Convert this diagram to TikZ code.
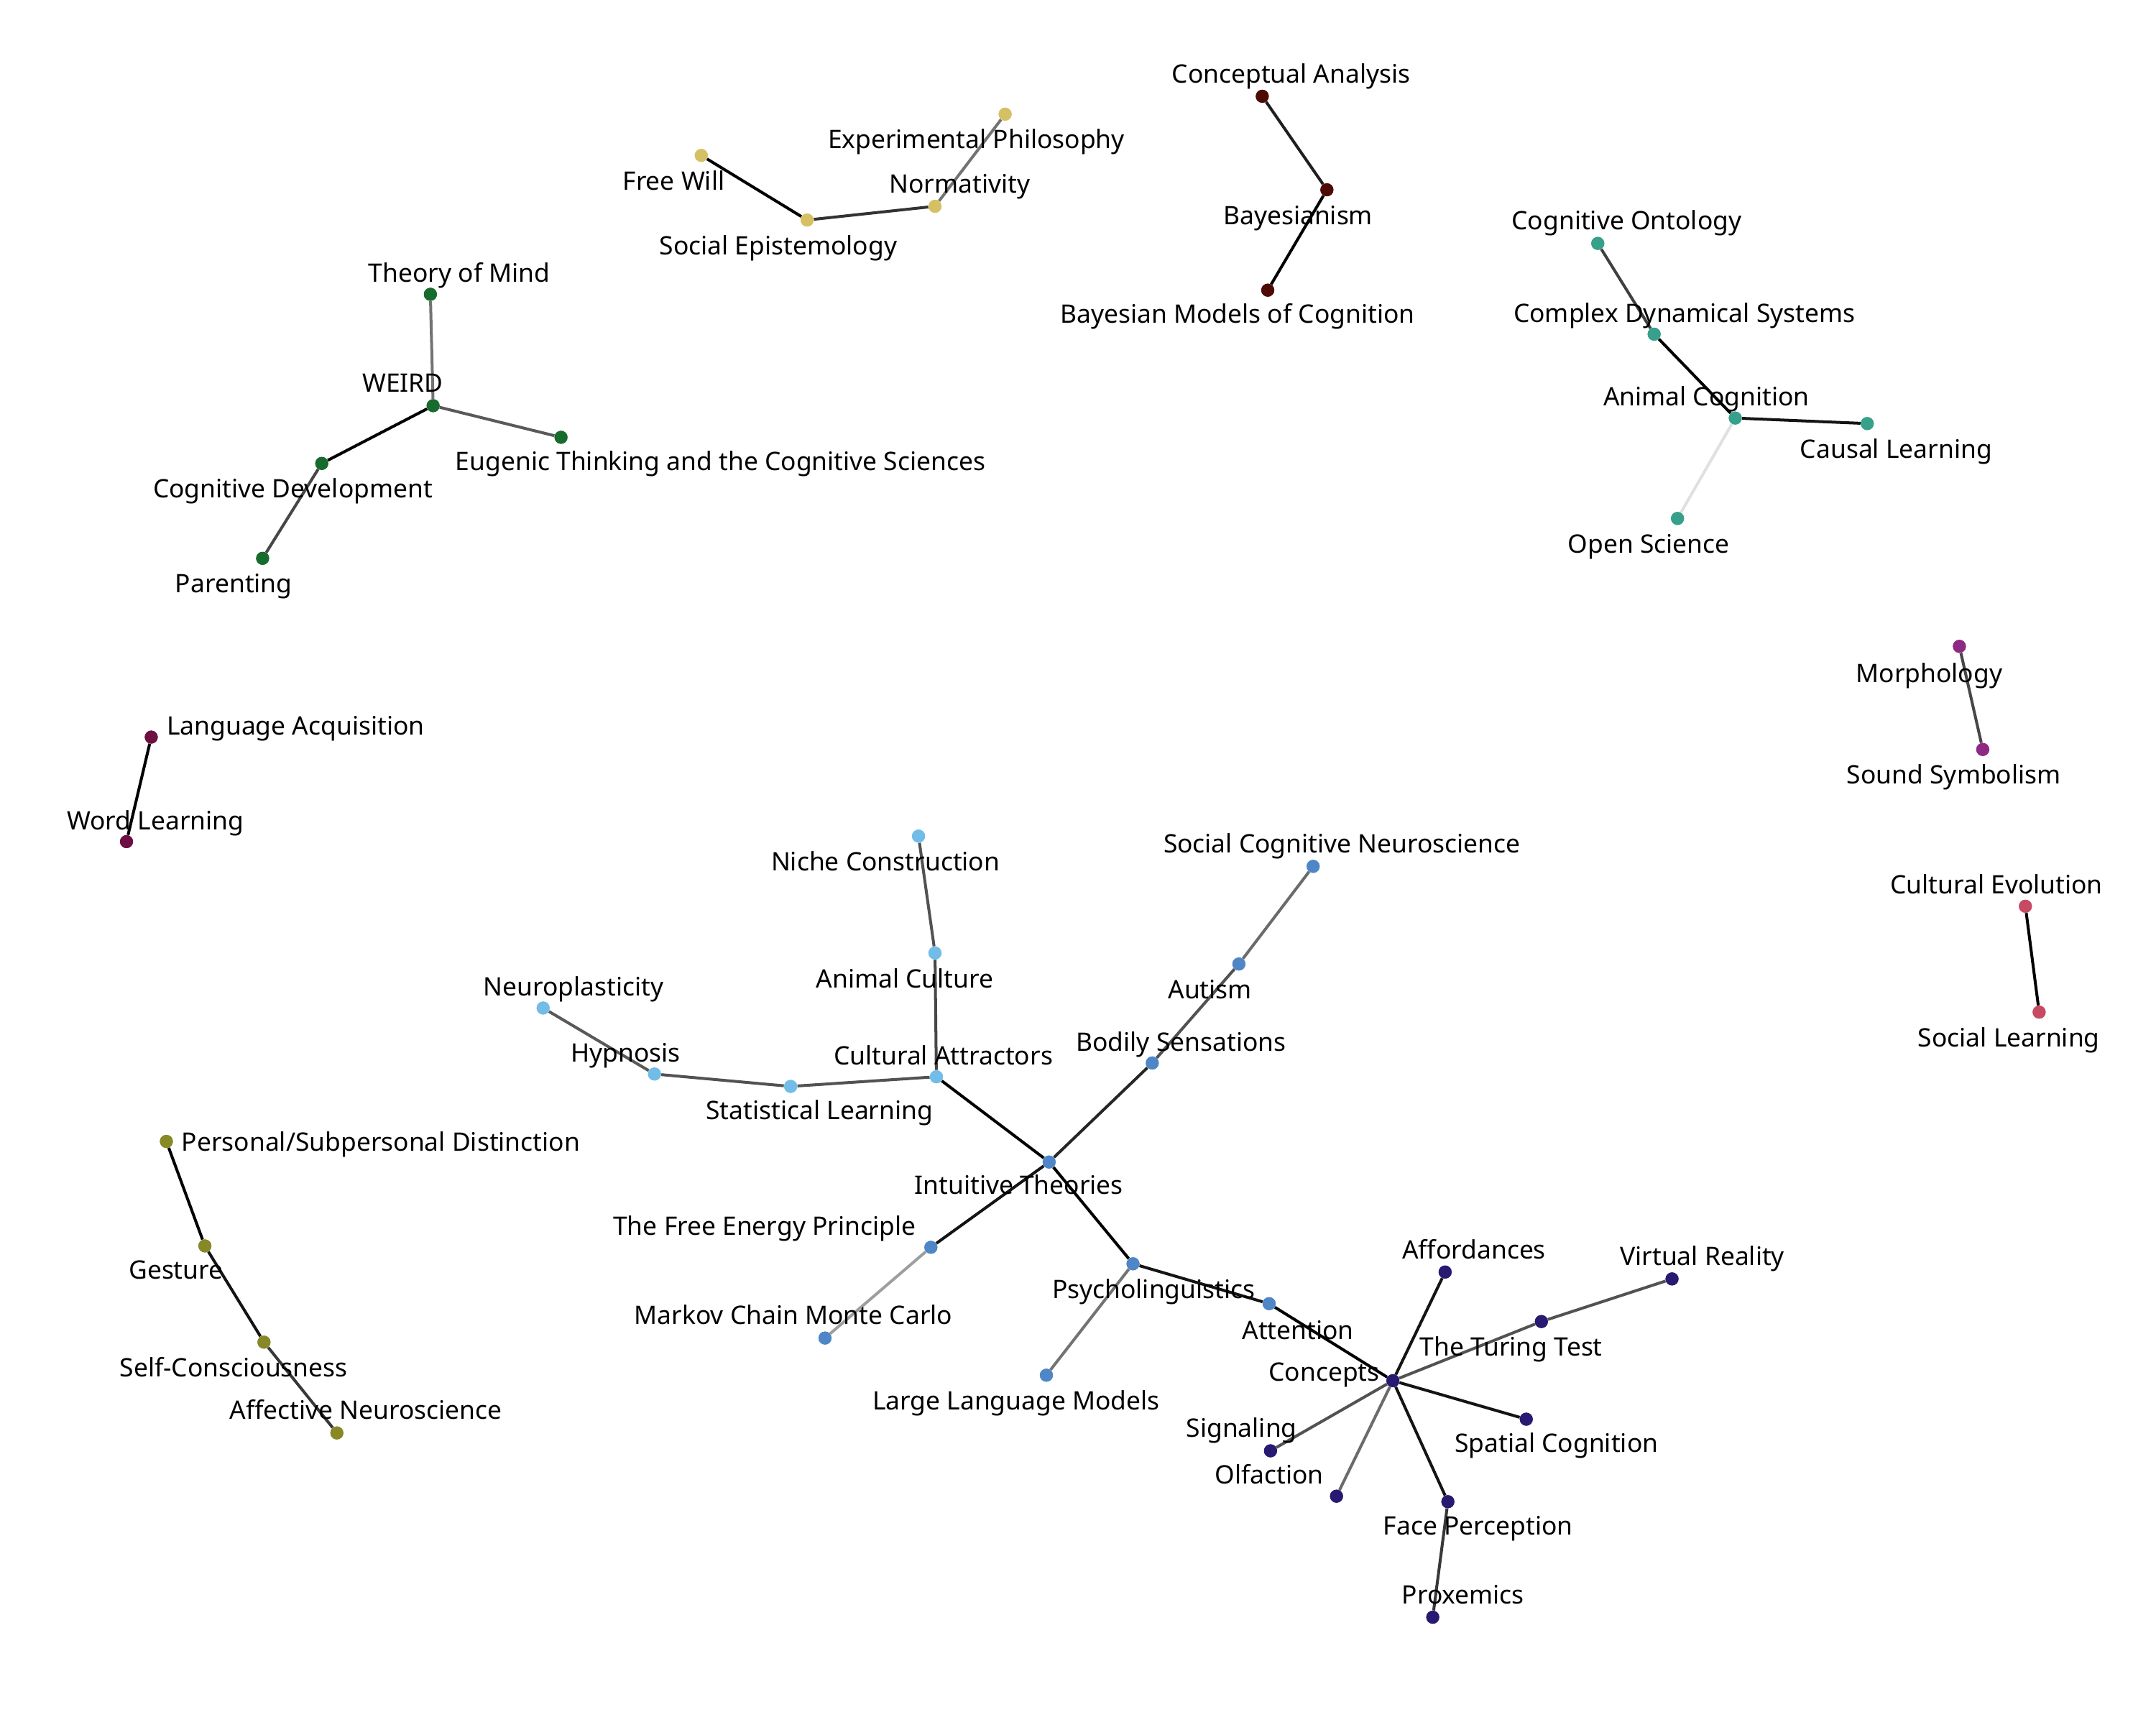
\documentclass[tikz,border=0pt]{standalone}
\usepackage{fontspec}
\setmainfont{Noto Sans}
\definecolor{cgold}{HTML}{D6C064}
\definecolor{cbay}{HTML}{4E0A05}
\definecolor{cteal}{HTML}{37A08A}
\definecolor{cgreen}{HTML}{176B2C}
\definecolor{cmorph}{HTML}{8E2A84}
\definecolor{ccult}{HTML}{C64B62}
\definecolor{clang}{HTML}{6E0F42}
\definecolor{colive}{HTML}{878826}
\definecolor{clblue}{HTML}{72BDE8}
\definecolor{cmblue}{HTML}{4F86C6}
\definecolor{cnavy}{HTML}{281A70}
\tikzset{
  vtx/.style={circle,inner sep=0pt,minimum size=9.5pt,draw=none},
  lbl/.style={anchor=mid,inner sep=0pt,yshift=-4.5pt,font=\fontsize{18.5}{22}\selectfont},
  ed/.style={line width=2.1pt},
}
\begin{document}
\begin{tikzpicture}[x=1pt,y=-1pt]
\useasboundingbox (0,0) rectangle (1568,1254);
% ---------- nodes ----------
% gold
\node[vtx,fill=cgold] (fw) at (510,113) {};
\node[vtx,fill=cgold] (se) at (587,160) {};
\node[vtx,fill=cgold] (nm) at (680,150) {};
\node[vtx,fill=cgold] (ep) at (731,83) {};
% bayes
\node[vtx,fill=cbay] (ca) at (918,70) {};
\node[vtx,fill=cbay] (bs) at (965,138) {};
\node[vtx,fill=cbay] (bm) at (922,211) {};
% teal
\node[vtx,fill=cteal] (co) at (1162,177) {};
\node[vtx,fill=cteal] (cds) at (1203,243) {};
\node[vtx,fill=cteal] (acog) at (1262,304) {};
\node[vtx,fill=cteal] (cl) at (1358,308) {};
\node[vtx,fill=cteal] (os) at (1220,377) {};
% green
\node[vtx,fill=cgreen] (tom) at (313,214) {};
\node[vtx,fill=cgreen] (weird) at (315,295) {};
\node[vtx,fill=cgreen] (eug) at (408,318) {};
\node[vtx,fill=cgreen] (cd) at (234,337) {};
\node[vtx,fill=cgreen] (par) at (191,406) {};
% morph
\node[vtx,fill=cmorph] (mor) at (1425,470) {};
\node[vtx,fill=cmorph] (ss) at (1442,545) {};
% cultural evolution
\node[vtx,fill=ccult] (ce) at (1473,659) {};
\node[vtx,fill=ccult] (sl) at (1483,736) {};
% language
\node[vtx,fill=clang] (la) at (110,536) {};
\node[vtx,fill=clang] (wl) at (92,612) {};
% olive
\node[vtx,fill=colive] (ps) at (121,830) {};
\node[vtx,fill=colive] (ges) at (149,906) {};
\node[vtx,fill=colive] (sc) at (192,976) {};
\node[vtx,fill=colive] (an) at (245,1042) {};
% light blue
\node[vtx,fill=clblue] (nc) at (668,608) {};
\node[vtx,fill=clblue] (acu) at (680,693) {};
\node[vtx,fill=clblue] (catt) at (681,783) {};
\node[vtx,fill=clblue] (stl) at (575,790) {};
\node[vtx,fill=clblue] (hyp) at (476,781) {};
\node[vtx,fill=clblue] (neu) at (395,733) {};
% medium blue
\node[vtx,fill=cmblue] (it) at (763,845) {};
\node[vtx,fill=cmblue] (bod) at (838,773) {};
\node[vtx,fill=cmblue] (aut) at (901,701) {};
\node[vtx,fill=cmblue] (scn) at (955,630) {};
\node[vtx,fill=cmblue] (fep) at (677,907) {};
\node[vtx,fill=cmblue] (mcmc) at (600,973) {};
\node[vtx,fill=cmblue] (psy) at (824,919) {};
\node[vtx,fill=cmblue] (llm) at (761,1000) {};
\node[vtx,fill=cmblue] (att) at (923,948) {};
% navy
\node[vtx,fill=cnavy] (con) at (1013,1004) {};
\node[vtx,fill=cnavy] (aff) at (1051,925) {};
\node[vtx,fill=cnavy] (vr) at (1216,930) {};
\node[vtx,fill=cnavy] (tt) at (1121,961) {};
\node[vtx,fill=cnavy] (spc) at (1110,1032) {};
\node[vtx,fill=cnavy] (sig) at (924,1055) {};
\node[vtx,fill=cnavy] (olf) at (972,1088) {};
\node[vtx,fill=cnavy] (fp) at (1053,1092) {};
\node[vtx,fill=cnavy] (prx) at (1042,1176) {};
% ---------- edges ----------
\draw[ed,black] (fw) -- (se);
\draw[ed,black!80] (se) -- (nm);
\draw[ed,black!55] (nm) -- (ep);
\draw[ed,black!88] (ca) -- (bs);
\draw[ed,black] (bs) -- (bm);
\draw[ed,black!75] (co) -- (cds);
\draw[ed,black] (cds) -- (acog);
\draw[ed,black!92] (acog) -- (cl);
\draw[ed,black!12] (acog) -- (os);
\draw[ed,black!55] (tom) -- (weird);
\draw[ed,black!65] (weird) -- (eug);
\draw[ed,black] (weird) -- (cd);
\draw[ed,black!72] (cd) -- (par);
\draw[ed,black!72] (mor) -- (ss);
\draw[ed,black] (ce) -- (sl);
\draw[ed,black] (la) -- (wl);
\draw[ed,black] (ps) -- (ges);
\draw[ed,black!92] (ges) -- (sc);
\draw[ed,black!78] (sc) -- (an);
\draw[ed,black!68] (nc) -- (acu);
\draw[ed,black!72] (acu) -- (catt);
\draw[ed,black!68] (catt) -- (stl);
\draw[ed,black!68] (stl) -- (hyp);
\draw[ed,black!65] (hyp) -- (neu);
\draw[ed,black] (catt) -- (it);
\draw[ed,black!85] (it) -- (bod);
\draw[ed,black!68] (bod) -- (aut);
\draw[ed,black!58] (aut) -- (scn);
\draw[ed,black!92] (it) -- (fep);
\draw[ed,black!38] (fep) -- (mcmc);
\draw[ed,black] (it) -- (psy);
\draw[ed,black!55] (psy) -- (llm);
\draw[ed,black!92] (psy) -- (att);
\draw[ed,black] (att) -- (con);
\draw[ed,black!92] (con) -- (aff);
\draw[ed,black!68] (con) -- (tt);
\draw[ed,black!68] (tt) -- (vr);
\draw[ed,black!92] (con) -- (spc);
\draw[ed,black!68] (con) -- (sig);
\draw[ed,black!58] (con) -- (olf);
\draw[ed,black!92] (con) -- (fp);
\draw[ed,black!78] (fp) -- (prx);
% redraw nodes on top
\foreach \n/\c in {fw/cgold,se/cgold,nm/cgold,ep/cgold,ca/cbay,bs/cbay,bm/cbay,co/cteal,cds/cteal,acog/cteal,cl/cteal,os/cteal,tom/cgreen,weird/cgreen,eug/cgreen,cd/cgreen,par/cgreen,mor/cmorph,ss/cmorph,ce/ccult,sl/ccult,la/clang,wl/clang,ps/colive,ges/colive,sc/colive,an/colive,nc/clblue,acu/clblue,catt/clblue,stl/clblue,hyp/clblue,neu/clblue,it/cmblue,bod/cmblue,aut/cmblue,scn/cmblue,fep/cmblue,mcmc/cmblue,psy/cmblue,llm/cmblue,att/cmblue,con/cnavy,aff/cnavy,vr/cnavy,tt/cnavy,spc/cnavy,sig/cnavy,olf/cnavy,fp/cnavy,prx/cnavy}
  \fill[\c] (\n.center) circle (4.75pt);
% ---------- labels ----------
\node[lbl] (tfw) at (490,131) {Free Will};
\node[lbl] (tse) at (566,178) {Social Epistemology};
\node[lbl] (tnm) at (698,133) {Normativity};
\node[lbl] (tep) at (710,101) {Experimental Philosophy};
\node[lbl] (tca) at (939,53) {Conceptual Analysis};
\node[lbl] (tbs) at (944,156) {Bayesianism};
\node[lbl] (tbm) at (900,228) {Bayesian Models of Cognition};
\node[lbl] (tco) at (1183,160) {Cognitive Ontology};
\node[lbl] (tcds) at (1225,227) {Complex Dynamical Systems};
\node[lbl] (tacog) at (1241,288) {Animal Cognition};
\node[lbl] (tcl) at (1379,326) {Causal Learning};
\node[lbl] (tos) at (1199,395) {Open Science};
\node[lbl] (ttom) at (334,198) {Theory of Mind};
\node[lbl] (tweird) at (293,278) {WEIRD};
\node[lbl] (teug) at (524,335) {Eugenic Thinking and the Cognitive Sciences};
\node[lbl] (tcd) at (213,355) {Cognitive Development};
\node[lbl] (tpar) at (170,424) {Parenting};
\node[lbl] (tmor) at (1403,489) {Morphology};
\node[lbl] (tss) at (1421,563) {Sound Symbolism};
\node[lbl] (tce) at (1452,643) {Cultural Evolution};
\node[lbl] (tsl) at (1461,754) {Social Learning};
\node[lbl] (tla) at (215,527) {Language Acquisition};
\node[lbl] (twl) at (113,596) {Word Learning};
\node[lbl] (tps) at (277,830) {Personal/Subpersonal Distinction};
\node[lbl] (tges) at (128,923) {Gesture};
\node[lbl] (tsc) at (170,994) {Self-Consciousness};
\node[lbl] (tan) at (266,1025) {Affective Neuroscience};
\node[lbl] (tnc) at (644,626) {Niche Construction};
\node[lbl] (tacu) at (658,711) {Animal Culture};
\node[lbl] (tcatt) at (686,767) {Cultural Attractors};
\node[lbl] (tstl) at (596,807) {Statistical Learning};
\node[lbl] (thyp) at (455,765) {Hypnosis};
\node[lbl] (tneu) at (417,717) {Neuroplasticity};
\node[lbl] (tit) at (741,861) {Intuitive Theories};
\node[lbl] (tbod) at (859,757) {Bodily Sensations};
\node[lbl] (taut) at (880,719) {Autism};
\node[lbl] (tscn) at (976,613) {Social Cognitive Neuroscience};
\node[lbl] (tfep) at (556,891) {The Free Energy Principle};
\node[lbl] (tmcmc) at (577,956) {Markov Chain Monte Carlo};
\node[lbl] (tpsy) at (839,937) {Psycholinguistics};
\node[lbl] (tllm) at (739,1018) {Large Language Models};
\node[lbl] (tatt) at (944,967) {Attention};
\node[lbl] (tcon) at (963,997) {Concepts};
\node[lbl] (taff) at (1072,908) {Affordances};
\node[lbl] (tvr) at (1238,913) {Virtual Reality};
\node[lbl] (ttt) at (1099,979) {The Turing Test};
\node[lbl] (tspc) at (1132,1049) {Spatial Cognition};
\node[lbl] (tsig) at (903,1038) {Signaling};
\node[lbl] (tolf) at (923,1072) {Olfaction};
\node[lbl] (tfp) at (1075,1109) {Face Perception};
\node[lbl] (tprx) at (1064,1159) {Proxemics};
\end{tikzpicture}
\end{document}
